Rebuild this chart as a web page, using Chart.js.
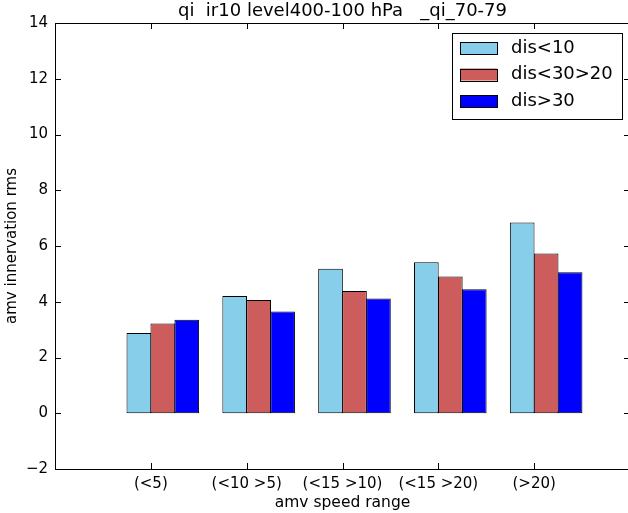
<!DOCTYPE html>
<html>
<head>
<meta charset="utf-8">
<script src="https://cdn.jsdelivr.net/npm/chart.js@4/dist/chart.umd.min.js"></script>
<style>
  html, body { margin: 0; padding: 0; background: #fff; overflow: hidden; }
  #wrap { width: 640px; height: 513px; }
</style>
</head>
<body>
<div id="wrap"><canvas id="canvas" width="640" height="513"></canvas></div>
<script>
var categories = ['(<5)', '(<10 >5)', '(<15 >10)', '(<15 >20)', '(>20)']
var seriesNames = ['dis<10', 'dis<30>20', 'dis>30']
var dis10 = [2.88, 4.21, 5.18, 5.42, 6.84]
var dis30_20 = [3.22, 4.06, 4.39, 4.91, 5.73]
var dis30 = [3.35, 3.65, 4.12, 4.45, 5.06]
var yTicks = [-2, 0, 2, 4, 6, 8, 10, 12, 14]
var chartTitle = 'qi  ir10 level400-100 hPa   _qi_70-79'

var colors = ['#87CEEB', '#CD5C5C', '#0000FF']
var font = 'DejaVu Sans'
// matplotlib puts the tick at the left edge of the middle bar, group is shifted right
var groupShift = 0.125

function toPoints(vals) {
    return vals.map(function(v, i) { return { x: i + groupShift, y: v } })
}

var frame = {
    id: 'frame',
    afterDatasetsDraw: function(chart) {
        var ctx = chart.ctx
        var a = chart.chartArea
        var xs = chart.scales.x, ys = chart.scales.y
        var tl = 6
        ctx.save()
        ctx.strokeStyle = '#000'
        ctx.lineWidth = 1
        ctx.strokeRect(Math.round(a.left) + 0.5, Math.round(a.top) + 0.5, Math.round(a.right - a.left), Math.round(a.bottom - a.top))
        ctx.beginPath()
        yTicks.forEach(function(t) {
            var y = Math.round(ys.getPixelForValue(t)) + 0.5
            ctx.moveTo(a.left, y); ctx.lineTo(a.left + tl, y)
            ctx.moveTo(a.right, y); ctx.lineTo(a.right - tl, y)
        })
        categories.forEach(function(c, i) {
            var x = Math.round(xs.getPixelForValue(i)) + 0.5
            ctx.moveTo(x, a.bottom); ctx.lineTo(x, a.bottom - tl)
            ctx.moveTo(x, a.top); ctx.lineTo(x, a.top + tl)
        })
        ctx.stroke()

        // title
        ctx.fillStyle = '#000'
        ctx.font = '18px "' + font + '"'
        ctx.textAlign = 'center'
        ctx.textBaseline = 'middle'
        ctx.fillText(chartTitle, (a.left + a.right) / 2, 11)

        // legend
        var lx = a.right - 178, ly = a.top + 10, lw = 170, lh = 86
        ctx.fillStyle = '#fff'
        ctx.fillRect(lx, ly, lw, lh)
        ctx.strokeRect(Math.round(lx) + 0.5, Math.round(ly) + 0.5, lw, lh)
        ctx.font = '18px "' + font + '"'
        ctx.textAlign = 'left'
        chart.data.datasets.forEach(function(ds, i) {
            var cy = ly + 15 + i * 26.5
            ctx.fillStyle = ds.backgroundColor
            ctx.fillRect(lx + 8, cy - 6, 37, 12)
            ctx.strokeStyle = '#000'
            ctx.strokeRect(Math.round(lx + 8) + 0.5, Math.round(cy - 6) + 0.5, 37, 12)
            ctx.fillStyle = '#000'
            ctx.fillText(ds.label, lx + 59, cy)
        })
        ctx.restore()
    }
}

var ctx = document.getElementById('canvas').getContext('2d')
var barChart = new Chart(ctx, {
    type: 'bar',
    data: {
        datasets: [dis10, dis30_20, dis30].map(function(vals, i) {
            return {
                label: seriesNames[i],
                data: toPoints(vals),
                backgroundColor: colors[i],
                borderColor: '#000',
                borderWidth: 1,
                borderSkipped: false,
                categoryPercentage: 0.75,
                barPercentage: 1.03
            }
        })
    },
    plugins: [frame],
    options: {
        responsive: false,
        animation: false,
        layout: { padding: { top: 23, right: 10, left: 0, bottom: 0 } },
        plugins: { legend: { display: false }, title: { display: false }, tooltip: { enabled: false } },
        scales: {
            x: {
                type: 'linear',
                offset: false,
                min: -1,
                max: 5,
                grid: { display: false, drawTicks: false },
                border: { display: false },
                afterBuildTicks: function(s) {
                    s.ticks = categories.map(function(c, i) { return { value: i } })
                },
                afterFit: function(s) { s.height = 44 },
                ticks: {
                    color: '#000',
                    padding: 6,
                    maxRotation: 0,
                    autoSkip: false,
                    font: { family: font, size: 15 },
                    callback: function(v) { return categories[v] }
                },
                title: {
                    display: true,
                    text: 'amv speed range',
                    color: '#000',
                    font: { family: font, size: 15.5 },
                    padding: { top: 0, bottom: 1 }
                }
            },
            y: {
                min: -2,
                max: 14,
                grid: { display: false, drawTicks: false },
                border: { display: false },
                afterBuildTicks: function(s) {
                    s.ticks = yTicks.map(function(t) { return { value: t } })
                },
                afterFit: function(s) { s.width = 55 },
                ticks: {
                    color: '#000',
                    padding: 7,
                    font: { family: font, size: 15 },
                    callback: function(v) { return String(v).replace('-', '\u2212') }
                },
                title: {
                    display: true,
                    text: 'amv innervation rms',
                    color: '#000',
                    font: { family: font, size: 15 },
                    padding: { top: 3, bottom: 0 }
                }
            }
        }
    }
})
</script>
</body>
</html>
